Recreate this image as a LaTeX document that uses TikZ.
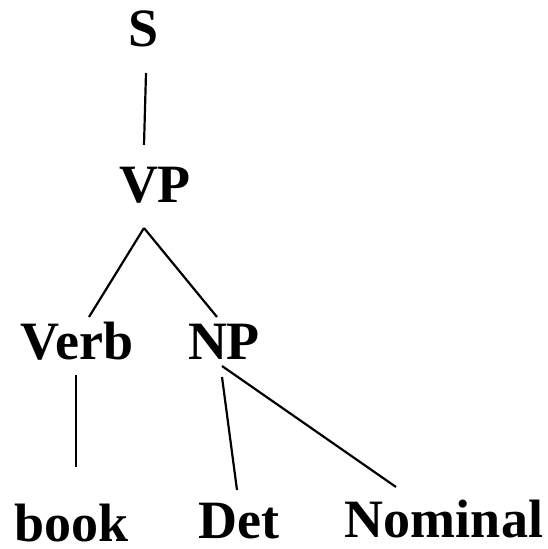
\documentclass[tikz,border=0pt]{standalone}
\usepackage{fontspec}
\setmainfont{Liberation Serif}
\usetikzlibrary{calc}
\begin{document}
\begin{tikzpicture}[x=1pt,y=-1pt,
  lbl/.style={anchor=base,inner sep=0pt,font=\fontsize{54}{54}\selectfont\bfseries},
  edge/.style={line width=2.2pt,black}]
\useasboundingbox (0,0) rectangle (548,549);
\node[lbl] (S) at (144,46) {S};
\node[lbl] (VP) at (155,202) {VP};
\node[lbl] (Verb) at (77,359) {Verb};
\node[lbl] (NP) at (224,359) {NP};
\node[lbl] (book) at (72,541) {book};
\node[lbl] (Det) at (239,538) {Det};
\node[lbl] (Nominal) at (444,537) {Nominal};
\draw[edge] ($(S.base)+(2,27)$) -- ($(VP.base)+(-11,-57)$);
\draw[edge] ($(VP.base)+(-11,26)$) -- ($(Verb.base)+(12,-42)$);
\draw[edge] ($(VP.base)+(-11,26)$) -- ($(NP.base)+(-7,-42)$);
\draw[edge] ($(Verb.base)+(-1,16)$) -- ($(book.base)+(4,-74)$);
\draw[edge] ($(NP.base)+(-2,18)$) -- ($(Det.base)+(-2,-48)$);
\draw[edge] ($(NP.base)+(-2,7)$) -- ($(Nominal.base)+(-48,-50)$);
\end{tikzpicture}
\end{document}
